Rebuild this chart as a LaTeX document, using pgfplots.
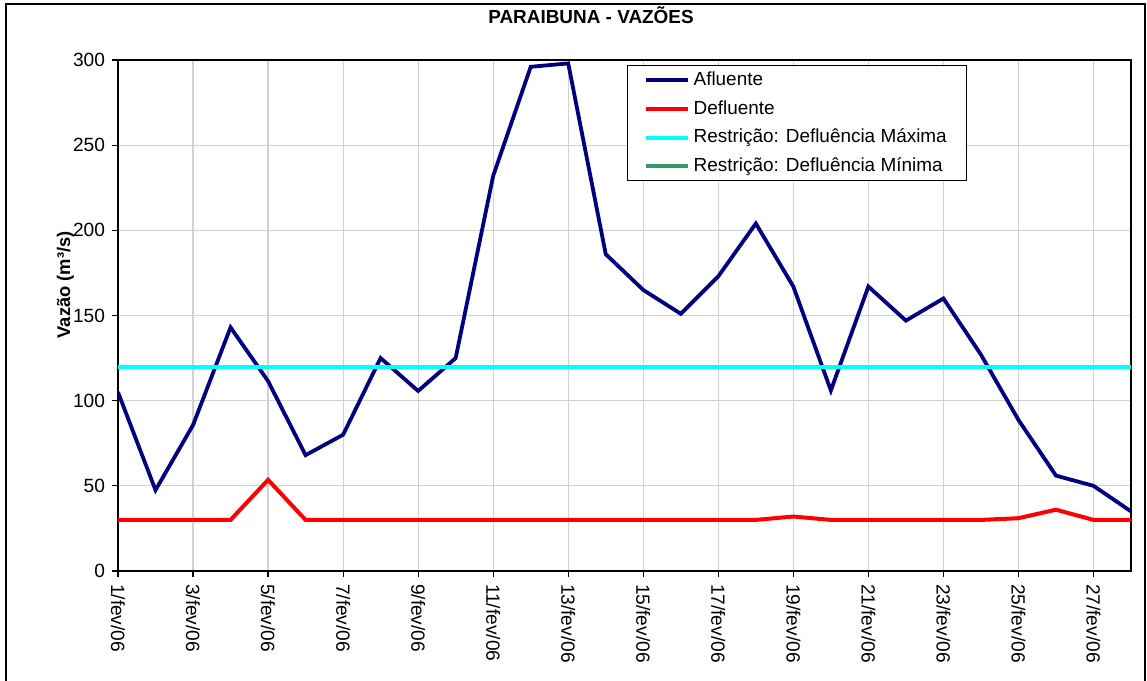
\documentclass[border=0pt]{standalone}
\usepackage{pgfplots}
\pgfplotsset{compat=1.18}
\usepackage{fontspec}
\setmainfont{Liberation Sans}

\definecolor{afl}{RGB}{0,0,128}
\definecolor{defl}{RGB}{255,0,0}
\definecolor{rmax}{RGB}{0,255,255}
\definecolor{rmin}{RGB}{51,153,102}

\begin{document}
\begin{tikzpicture}[x=1bp,y=1bp]
% bounding box and chart frame (1 px = 0.5 bp)
\path[use as bounding box] (-59,-54.5) rectangle (514.5,285.5);
\draw[black, line width=0.8bp] (-56,-60) rectangle (513.5,283.5);
\node[font=\bfseries\fontsize{9.5}{11}\selectfont, anchor=base] at (236.5,274) {PARAIBUNA - VAZÕES};
\begin{axis}[
    at={(0,0)}, anchor=origin,
    scale only axis,
    width=506.5bp, height=255.5bp,
    xmin=1, xmax=28,
    ymin=0, ymax=300,
    xtick={1,3,...,27},
    xticklabels={1/fev/06,3/fev/06,5/fev/06,7/fev/06,9/fev/06,11/fev/06,13/fev/06,15/fev/06,17/fev/06,19/fev/06,21/fev/06,23/fev/06,25/fev/06,27/fev/06},
    x tick label style={rotate=-90, anchor=west, font=\fontsize{9.6}{11}\selectfont},
    ytick={0,50,...,300},
    y tick label style={font=\fontsize{9.6}{11}\selectfont},
    /pgf/number format/assume math mode=true,
    tick align=outside, tick pos=left,
    major tick length=3bp,
    tick style={black, line width=0.6bp},
    grid=major,
    grid style={gray!35, line width=0.6bp},
    axis line style={black, line width=0.6bp},
    ylabel={\bfseries Vazão (m³/s)},
    ylabel style={font=\fontsize{9.2}{11}\selectfont, at={(axis description cs:-0.052,0.56)}, anchor=center},
    legend style={at={(axis description cs:0.5025,0.990)}, anchor=north west,
        draw=black, line width=0.6bp, fill=white,
        font=\fontsize{9.5}{11}\selectfont,
        row sep=2bp, inner xsep=8bp, inner ysep=1bp},
    legend cell align=left,
    legend image code/.code={\draw[#1, line width=2bp] (0bp,0bp) -- (21bp,0bp);},
]
\addplot[afl, line width=1.9bp] coordinates {
(1,105)(2,47.5)(3,85.7)(4,143)(5,111.5)(6,68)(7,80)(8,125)(9,105.7)(10,125)
(11,232)(12,296)(13,298)(14,186)(15,165)(16,151)(17,173)(18,204)(19,167)(20,106)
(21,167)(22,147)(23,160)(24,127)(25,88.7)(26,56)(27,50)(28,35)
};
\addlegendentry{Afluente}
\addplot[defl, line width=2bp] coordinates {
(1,30)(2,30)(3,30)(4,30)(5,53.5)(6,30)(7,30)(8,30)(9,30)(10,30)
(11,30)(12,30)(13,30)(14,30)(15,30)(16,30)(17,30)(18,30)(19,32)(20,30)
(21,30)(22,30)(23,30)(24,30)(25,31)(26,36)(27,30)(28,30)
};
\addlegendentry{Defluente}
\addplot[rmax, line width=2bp] coordinates {(1,120)(28,120)};
\addlegendentry{Restrição: Defluência Máxima}
\addlegendimage{rmin, line width=2bp}
\addlegendentry{Restrição: Defluência Mínima}
\end{axis}
\end{tikzpicture}
\end{document}
